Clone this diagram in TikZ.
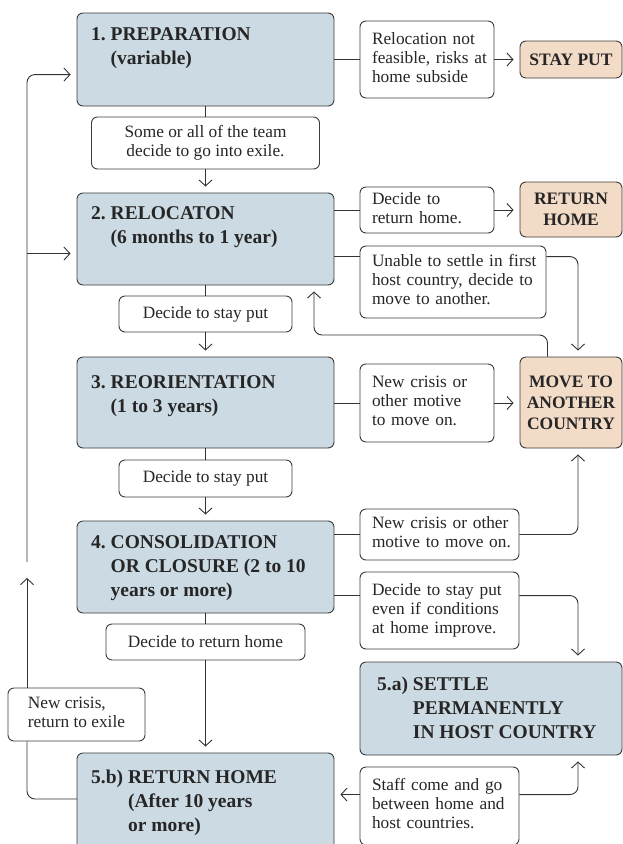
\documentclass[tikz,border=0pt]{standalone}
\usepackage{fontspec}
\setmainfont{Liberation Serif}
\usetikzlibrary{arrows.meta}
\definecolor{bluefill}{HTML}{CCDAE3}
\definecolor{peachfill}{HTML}{F3DCC7}
\definecolor{boxline}{HTML}{3C3C3C}
\definecolor{lineclr}{HTML}{333333}
\definecolor{ink}{HTML}{262626}
\newcommand\ttlfnt{\fontsize{19.5}{24}\selectfont\bfseries}
\newcommand\labfnt{\fontsize{17.3}{19}\selectfont}
\newcommand\pchfnt{\fontsize{17.5}{21}\selectfont\bfseries}
\newcommand\lines[1]{\begin{tabular}{@{}l@{}}#1\end{tabular}}
\tikzset{
  bluebox/.style={draw=boxline, fill=bluefill, rounded corners=6pt, line width=0.9pt, inner sep=0pt},
  peachbox/.style={draw=boxline, fill=peachfill, rounded corners=6pt, line width=0.9pt, align=center, font=\pchfnt, text=ink, inner sep=0pt},
  labl/.style={draw=boxline, fill=white, rounded corners=6pt, line width=0.9pt, font=\labfnt, text=ink, inner xsep=12pt, inner ysep=0pt, align=left},
  labc/.style={draw=boxline, fill=white, rounded corners=6pt, line width=0.9pt, font=\labfnt, text=ink, inner sep=0pt, align=center},
  ttl/.style={font=\ttlfnt, text=ink, inner sep=0pt, anchor=base west},
  conn/.style={draw=lineclr, line width=0.9pt, rounded corners=8pt},
  arr/.style={conn, -{Straight Barb[length=6pt,width=13pt,line width=0.9pt]}, shorten >=6pt},
}
\begin{document}
\begin{tikzpicture}[x=1pt, y=-1pt]
\useasboundingbox (0,0) rectangle (623,844);
\clip (0,0) rectangle (623,844);
\fill[white] (0,0) rectangle (623,844);

% blue stage boxes
\node[bluebox, minimum width=257pt, minimum height=93pt] (b1) at (205.5,59.5) {};
\node[bluebox, minimum width=257pt, minimum height=92pt] (b2) at (205.5,239) {};
\node[bluebox, minimum width=257pt, minimum height=91pt] (b3) at (205.5,402.5) {};
\node[bluebox, minimum width=257pt, minimum height=92pt] (b4) at (205.5,567) {};
\node[bluebox, minimum width=257pt, minimum height=100pt] (b5b) at (205.5,803) {};
\node[bluebox, minimum width=262pt, minimum height=93pt] (b5a) at (491,708.5) {};

% titles
\node[ttl] (t1) at (91,40.5) {\begin{tabular}[t]{@{}l@{\ }l@{}}1.&PREPARATION\\&(variable)\end{tabular}};
\node[ttl] (t2) at (91,219.5) {\begin{tabular}[t]{@{}l@{\ }l@{}}2.&RELOCATON\\&(6 months to 1 year)\end{tabular}};
\node[ttl] (t3) at (91,388.5) {\begin{tabular}[t]{@{}l@{\ }l@{}}3.&REORIENTATION\\&(1 to 3 years)\end{tabular}};
\node[ttl] (t4) at (91,548.5) {\begin{tabular}[t]{@{}l@{\ }l@{}}4.&CONSOLIDATION\\&OR CLOSURE (2 to 10\\&years or more)\end{tabular}};
\node[ttl] (t5b) at (91,783.5) {\begin{tabular}[t]{@{}l@{\ }l@{}}5.b)&RETURN HOME\\&(After 10 years\\&or more)\end{tabular}};
\node[ttl] (t5a) at (377,690.5) {\begin{tabular}[t]{@{}l@{\ }l@{}}5.a)&SETTLE\\&PERMANENTLY\\&IN HOST COUNTRY\end{tabular}};

% peach outcome boxes
\node[peachbox, minimum width=102pt, minimum height=37pt] (stay) at (571,59.5) {STAY PUT};
\node[peachbox, minimum width=102pt, minimum height=55pt] (rethome) at (571,209.5) {RETURN\\HOME};
\node[peachbox, minimum width=102pt, minimum height=91pt] (move) at (571,402.5) {MOVE TO\\ANOTHER\\COUNTRY};

% labels
\node[labc, minimum width=228pt, minimum height=52pt] (l1) at (205.5,143) {Some or all of the team\\decide to go into exile.};
\node[labc, minimum width=173pt, minimum height=36pt] (l2) at (205.5,314) {Decide to stay put};
\node[labc, minimum width=173pt, minimum height=37pt] (l3) at (205.5,478.5) {Decide to stay put};
\node[labc, minimum width=199pt, minimum height=36pt] (l4) at (205.5,642) {Decide to return home};
\node[labc, minimum width=137pt, minimum height=53pt] (lx) at (76.5,714.5) {\lines{New crisis,\\return to exile}};

\node[labl, text width=110pt, minimum height=77pt] (r1) at (427,59.5) {\lines{Relocation not\\feasible, risks at\\home subside}};
\node[labl, text width=110pt, minimum height=46pt] (r2) at (427,210) {\lines{Decide to\\return home.}};
\node[labl, text width=162pt, minimum height=72pt] (r3) at (453,282) {\lines{Unable to settle in first\\host country, decide to\\move to another.}};
\node[labl, text width=110pt, minimum height=78pt] (r4) at (427,403) {\lines{New crisis or\\other motive\\to move on.}};
\node[labl, text width=135pt, minimum height=51pt] (r5) at (439.5,534.5) {\lines{New crisis or other\\motive to move on.}};
\node[labl, text width=135pt, minimum height=77pt] (r6) at (439.5,610.5) {\lines{Decide to stay put\\even if conditions\\at home improve.}};
\node[labl, text width=135pt, minimum height=78pt] (r7) at (439.5,806) {\lines{Staff come and go\\between home and\\host countries.}};

% helper coordinates
\coordinate (rc) at (578,0);
\coordinate (lc) at (27,0);
\coordinate (r3in) at ([yshift=-11pt]r3.north west);
\coordinate (r6in) at ([yshift=-24pt]r6.north west);
\coordinate (r7in) at ([yshift=-28pt]r7.north west);
\coordinate (b1in) at ([yshift=-62pt]b1.north west);
\coordinate (b2in) at ([yshift=-61pt]b2.north west);
\coordinate (bk) at (547.5,335);
\coordinate (bk2) at (314,335);
\coordinate (upt) at (27,572);
\coordinate (ust) at (27,562);
\coordinate (b5bout) at (77,799);

% main column
\draw[conn] (b1.south) -- (l1.north);
\draw[arr] (l1.south) -- (b2.north);
\draw[conn] (b2.south) -- (l2.north);
\draw[arr] (l2.south) -- (b3.north);
\draw[conn] (b3.south) -- (l3.north);
\draw[arr] (l3.south) -- (b4.north);
\draw[conn] (b4.south) -- (l4.north);
\draw[arr] (l4.south) -- (b5b.north);

% right branches
\draw[conn] (r1.west -| b1.east) -- (r1.west);
\draw[arr] (r1.east) -- (r1.east -| stay.west);
\draw[conn] (r2.west -| b2.east) -- (r2.west);
\draw[arr] (r2.east) -- (r2.east -| rethome.west);
\draw[conn] (r3in -| b2.east) -- (r3in);
\draw[arr] (r3in -| r3.east) -| (rc |- move.north);
\draw[arr] (bk |- move.north) |- (bk2) -- (bk2 |- b2.south);
\draw[conn] (r4.west -| b3.east) -- (r4.west);
\draw[arr] (r4.east) -- (r4.east -| move.west);
\draw[conn] (r5.west -| b4.east) -- (r5.west);
\draw[arr] (r5.east) -| (rc |- move.south);
\draw[conn] (r6in -| b4.east) -- (r6in);
\draw[arr] (r6in -| r6.east) -| (rc |- b5a.north);
\draw[arr] (r7in) -- (r7in -| b5b.east);
\draw[arr] (r7in -| r7.east) -| (rc |- b5a.south);

% left loop
\draw[conn] (b5bout) -| (lc |- lx.south);
\draw[arr] (lc |- lx.north) -- (upt);
\draw[arr] (ust) |- (b1in);
\draw[arr] (lc |- b2in) -- (b2in);
\end{tikzpicture}
\end{document}
